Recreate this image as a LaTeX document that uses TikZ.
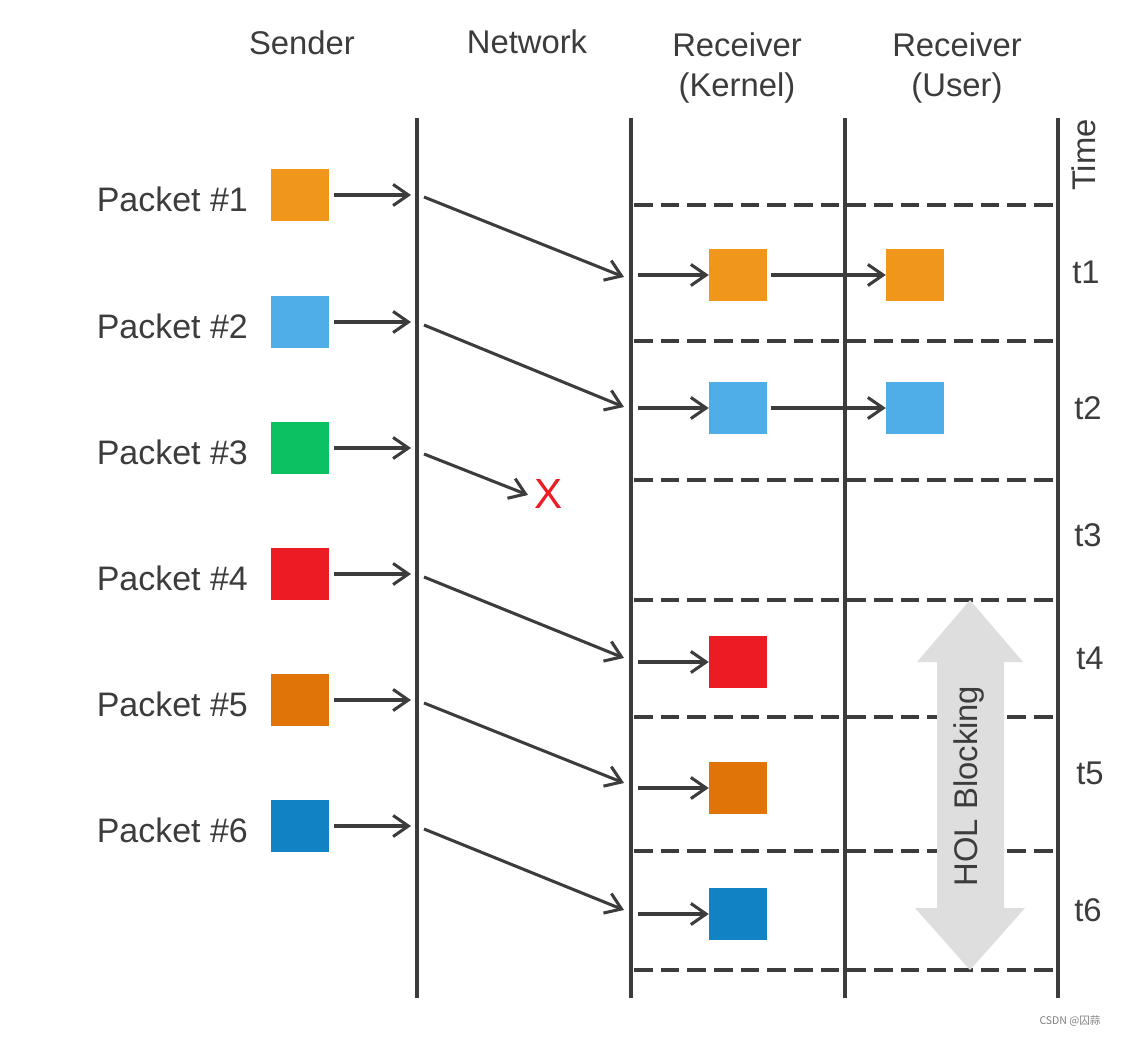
\documentclass[tikz,border=0pt]{standalone}
\usepackage{fontspec}
\setmainfont{Liberation Sans}
\newfontfamily\cjkfont{Noto Sans CJK SC}
\usetikzlibrary{arrows.meta}
\definecolor{ink}{HTML}{3C3C3C}
\definecolor{cOrange}{HTML}{F0971B}
\definecolor{cLBlue}{HTML}{4FAEE8}
\definecolor{cGreen}{HTML}{0BC162}
\definecolor{cRed}{HTML}{EC1C24}
\definecolor{cDOrange}{HTML}{E07408}
\definecolor{cBlue}{HTML}{1183C4}
\definecolor{holgray}{HTML}{DEDEDE}
\tikzset{
  lane/.style={draw=ink, line width=3pt},
  slot/.style={draw=ink, line width=3pt, dash pattern=on 0.56cm off 0.24cm},
  flow/.style={draw=ink, line width=2.6pt, -{Straight Barb[length=13pt,width=18pt,line width=2.6pt]}},
  pkt/.style={minimum width=1.74cm, minimum height=1.56cm, inner sep=0pt},
  hdr/.style={text=ink, font=\fontsize{28}{34}\selectfont},
  lbl/.style={text=ink, font=\fontsize{29}{34}\selectfont, anchor=east},
  tl/.style={text=ink, font=\fontsize{28}{34}\selectfont},
}
\begin{document}
\begin{tikzpicture}[x=0.03cm,y=-0.03cm]
\useasboundingbox[fill=white] (0,0) rectangle (1125,1036);
% headers
\node[hdr] (hS) at (302,43) {Sender};
\node[hdr] (hN) at (527,42) {Network};
\node[hdr, align=center] (hK) at (737,68) {Receiver\\(Kernel)};
\node[hdr, align=center] (hU) at (957,68) {Receiver\\(User)};
\node[hdr, rotate=90] (hT) at (1084,155) {Time};
% lanes
\coordinate (L1t) at (417,118); \coordinate (L1b) at (417,998);
\coordinate (L2t) at (631,118); \coordinate (L2b) at (631,998);
\coordinate (L3t) at (845,118); \coordinate (L3b) at (845,998);
\coordinate (L4t) at (1058,118); \coordinate (L4b) at (1058,998);
% time slots
\foreach \y/\n in {205/a,341/b,480/c,600/d,717/e,851/f,970/g}{
  \coordinate (s\n l) at (634,\y); \coordinate (s\n r) at (1056,\y);
  \draw[slot] (s\n l) -- (s\n r);
}
\draw[lane] (L1t) -- (L1b);
\draw[lane] (L2t) -- (L2b);
\draw[lane] (L3t) -- (L3b);
\draw[lane] (L4t) -- (L4b);
% sender packets
\foreach \i/\y/\c in {1/195/cOrange,2/322/cLBlue,3/448/cGreen,4/574/cRed,5/700/cDOrange,6/826/cBlue}{
  \node[pkt, fill=\c] (p\i) at (300,\y) {};
  \node[lbl] (pl\i) at (252,\y+4) {Packet \#\i};
  \coordinate (n\i) at (411,\y);
  \draw[flow] (p\i.east) ++(5,0) -- (n\i);
}
% network transit
\coordinate (d1a) at (424,197); \coordinate (d1b) at (624,277);
\coordinate (d2a) at (424,325); \coordinate (d2b) at (624,407);
\coordinate (d3a) at (424,454); \coordinate (d3b) at (528,495);
\coordinate (d4a) at (424,577); \coordinate (d4b) at (624,658);
\coordinate (d5a) at (424,703); \coordinate (d5b) at (624,783);
\coordinate (d6a) at (424,829); \coordinate (d6b) at (624,910);
\foreach \i in {1,...,6}{ \draw[flow] (d\i a) -- (d\i b); }
% lost packet
\node[text=cRed, font=\fontsize{36}{40}\selectfont] (lost) at (549,494) {X};
% kernel packets
\foreach \i/\y/\c in {1/275/cOrange,2/408/cLBlue,4/662/cRed,5/788/cDOrange,6/914/cBlue}{
  \node[pkt, fill=\c] (k\i) at (738,\y) {};
  \coordinate (ka\i) at (638,\y);
  \draw[flow] (ka\i) -- (k\i.west);
}
% user packets
\node[pkt, fill=cOrange] (u1) at (915,275) {};
\node[pkt, fill=cLBlue] (u2) at (915,408) {};
\draw[flow] (k1.east) ++(4,0) -- (u1.west);
\draw[flow] (k2.east) ++(4,0) -- (u2.west);
% time labels
\node[tl] (t1) at (1086,272) {t1};
\node[tl] (t2) at (1088,408) {t2};
\node[tl] (t3) at (1088,535) {t3};
\node[tl] (t4) at (1090,658) {t4};
\node[tl] (t5) at (1090,773) {t5};
\node[tl] (t6) at (1088,910) {t6};
% HOL blocking arrow
\fill[holgray] (970,600) -- (1023,662) -- (1004,662) -- (1004,908) -- (1025,908)
  -- (970,970) -- (915,908) -- (937,908) -- (937,662) -- (917,662) -- cycle;
\node[tl, rotate=90] (hol) at (969,786) {HOL Blocking};
% watermark
\node[text=gray, font=\cjkfont\fontsize{9}{11}\selectfont] (wm) at (1070,1021) {CSDN @囚蒜};
\end{tikzpicture}
\end{document}
